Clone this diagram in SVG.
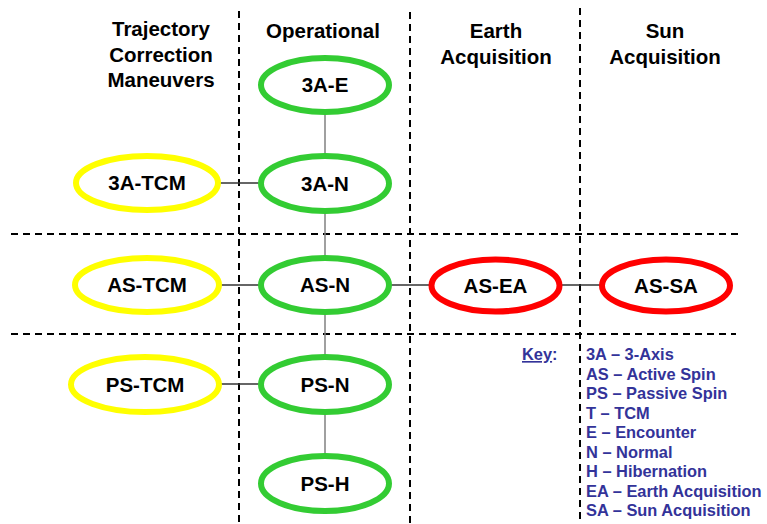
<svg xmlns="http://www.w3.org/2000/svg" width="767" height="524" viewBox="0 0 767 524">
<style>
.grid{stroke:#000;stroke-width:2;stroke-dasharray:7 5;fill:none}
.c{stroke:#333;stroke-width:1.3;fill:none}
.cv{stroke:#808080;stroke-width:1.5;fill:none}
.n ellipse{fill:#fff;stroke-width:6}
.g ellipse{stroke:#33CC33}
.y ellipse{stroke:#FFFF00}
.r ellipse{stroke:#FF0000}
.n text,.h{font-family:"Liberation Sans",Arial,sans-serif;font-weight:bold;font-size:20.5px;fill:#000;text-anchor:middle}
.k{font-family:"Liberation Sans",Arial,sans-serif;font-weight:bold;font-size:16.4px;fill:#333399}
</style>
<rect width="767" height="524" fill="#fff"/>
<g id="grid">
<line class="grid" x1="11" y1="234" x2="741" y2="234"/>
<line class="grid" x1="11" y1="334" x2="736" y2="334"/>
<line class="grid" x1="239" y1="11" x2="239" y2="524"/>
<line class="grid" x1="410" y1="12" x2="410" y2="524"/>
<line class="grid" x1="580" y1="8" x2="580" y2="524"/>
</g>
<g id="headers">
<text class="h" x="161" y="36">Trajectory</text>
<text class="h" x="161" y="62">Correction</text>
<text class="h" x="161" y="87">Maneuvers</text>
<text class="h" x="323" y="38">Operational</text>
<text class="h" x="496" y="38">Earth</text>
<text class="h" x="496" y="64">Acquisition</text>
<text class="h" x="665" y="38">Sun</text>
<text class="h" x="665" y="64">Acquisition</text>
</g>
<g id="connectors">
<line class="cv" x1="325" y1="112" x2="325" y2="457"/>
<line class="c" x1="218" y1="183" x2="260" y2="183"/>
<line class="c" x1="219" y1="285" x2="260" y2="285"/>
<line class="c" x1="219" y1="384" x2="260" y2="384"/>
<line class="c" x1="390" y1="285" x2="431" y2="285"/>
<line class="c" x1="560" y1="285" x2="602" y2="285"/>
</g>
<g id="n-3A-E" class="n g"><ellipse cx="325" cy="85" rx="64" ry="27"/><text x="325" y="92">3A-E</text></g>
<g id="n-3A-N" class="n g"><ellipse cx="325" cy="183.5" rx="64" ry="27.5"/><text x="325" y="191">3A-N</text></g>
<g id="n-3A-TCM" class="n y"><ellipse cx="147" cy="183" rx="71" ry="27"/><text x="147" y="190">3A-TCM</text></g>
<g id="n-AS-TCM" class="n y"><ellipse cx="147" cy="285" rx="72" ry="27"/><text x="147" y="292">AS-TCM</text></g>
<g id="n-AS-N" class="n g"><ellipse cx="325" cy="285" rx="64" ry="27"/><text x="325" y="292">AS-N</text></g>
<g id="n-AS-EA" class="n r"><ellipse cx="495.5" cy="285.5" rx="64" ry="26"/><text x="495.5" y="292.5">AS-EA</text></g>
<g id="n-AS-SA" class="n r"><ellipse cx="666" cy="285.5" rx="64" ry="26"/><text x="666" y="292.5">AS-SA</text></g>
<g id="n-PS-TCM" class="n y"><ellipse cx="145" cy="384.5" rx="74" ry="27.5"/><text x="145" y="391.5">PS-TCM</text></g>
<g id="n-PS-N" class="n g"><ellipse cx="325" cy="384.5" rx="64" ry="27.5"/><text x="325" y="391.5">PS-N</text></g>
<g id="n-PS-H" class="n g"><ellipse cx="325" cy="483.5" rx="64" ry="27.5"/><text x="325" y="490.5">PS-H</text></g>
<g id="key">
<text class="k" x="522" y="360" text-decoration="underline">Key</text>
<text class="k" x="552" y="360">:</text>
<text class="k" x="586" y="360">3A – 3-Axis</text>
<text class="k" x="586" y="379.5">AS – Active Spin</text>
<text class="k" x="586" y="399">PS – Passive Spin</text>
<text class="k" x="586" y="418.5">T – TCM</text>
<text class="k" x="586" y="438">E – Encounter</text>
<text class="k" x="586" y="457.5">N – Normal</text>
<text class="k" x="586" y="477">H – Hibernation</text>
<text class="k" x="586" y="496.5">EA – Earth Acquisition</text>
<text class="k" x="586" y="516">SA – Sun Acquisition</text>
</g>
</svg>
